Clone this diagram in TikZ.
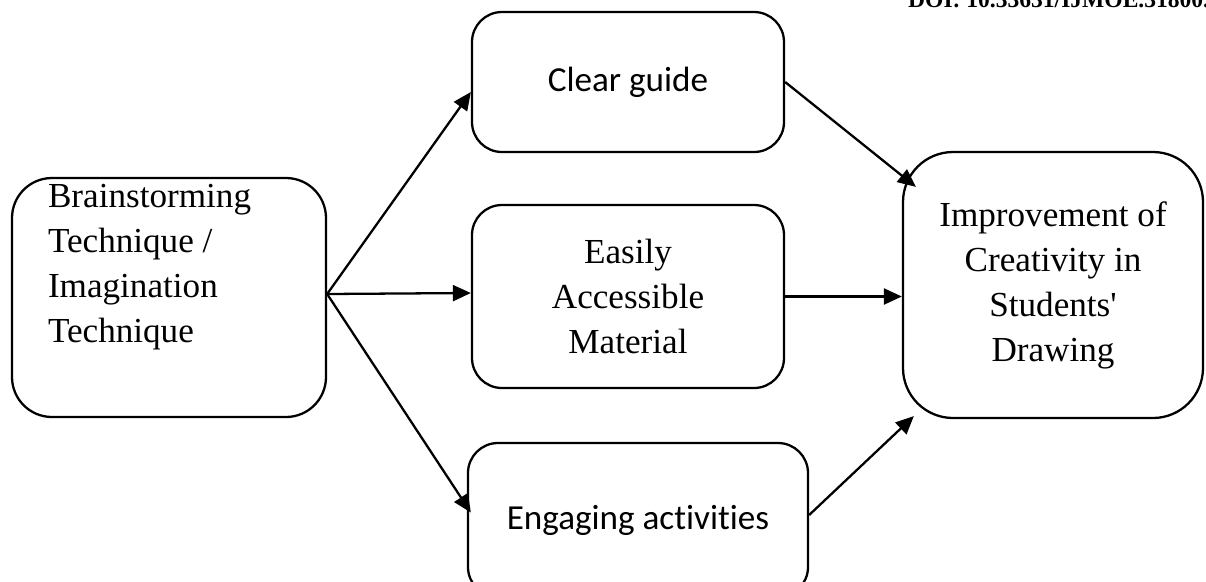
\documentclass[tikz,border=0pt]{standalone}
\usepackage{fontspec}
\setmainfont{Liberation Serif}
\newfontfamily\calibri[Ligatures=NoCommon]{Carlito}
\usetikzlibrary{arrows.meta,calc}

\begin{document}
\begin{tikzpicture}[
    stage/.style={draw,line width=1.3pt,align=center,inner sep=0pt,
        font=\fontsize{20}{25.6}\selectfont},
    link/.style={line width=1.3pt,-{Triangle[length=0.36cm,width=0.32cm]}}]
\useasboundingbox (0,0) rectangle (24.12,-11.62);
\path
    (18.04,-0.14) node [anchor=base west,font=\bfseries\fontsize{13.4}{16}\selectfont] (doi)
	{DOI: 10.33631/IJMOE.31800.};
\path
    (3.38,-5.95) node [stage,rounded corners=0.8cm,inner xsep=0.72cm,inner ysep=0.12cm] (brain)
	{\parbox[c][4.54cm][t]{4.84cm}{\raggedright Brainstorming\\ Technique /\\ Imagination\\ Technique}}
    (12.56,-1.64) node [stage,rounded corners=0.6cm,minimum width=6.24cm,minimum height=2.8cm,
	font=\calibri\fontsize{20}{25.6}\selectfont] (guide) {Clear guide}
    (12.56,-5.93) node [stage,rounded corners=0.6cm,minimum width=6.24cm,minimum height=3.66cm] (access)
	{Easily\\ Accessible\\ Material}
    (12.76,-10.4) node [stage,rounded corners=0.6cm,minimum width=6.8cm,minimum height=3.08cm,
	font=\calibri\fontsize{20}{25.6}\selectfont] (engage) {Engaging activities}
    (21.06,-5.7) node [stage,rounded corners=1cm,minimum width=6cm,minimum height=5.32cm] (result)
	{Improvement of\\ Creativity in\\ Students\textquotesingle\\ Drawing};
\path
    ($(brain.east)+(0,0.07)$) coordinate (fan)
    ($(guide.west)+(0,-0.2)$) coordinate (guidein)
    ($(access.west)+(0,0.07)$) coordinate (accessin)
    ($(engage.west)+(0.08,0.15)$) coordinate (engagein)
    ($(result.north west)+(0.28,-0.72)$) coordinate (resulttop)
    ($(result.south west)+(0.24,0.06)$) coordinate (resultbot);
\draw [link] (fan) -- (guidein);
\draw [link] (fan) -- (accessin);
\draw [link] (fan) -- (engagein);
\draw [link] (guide.east) -- (resulttop);
\draw [link] (access.east) -- (access.east -| result.west);
\draw [link] ($(engage.east)+(0,0.1)$) -- (resultbot);
\end{tikzpicture}
\end{document}
